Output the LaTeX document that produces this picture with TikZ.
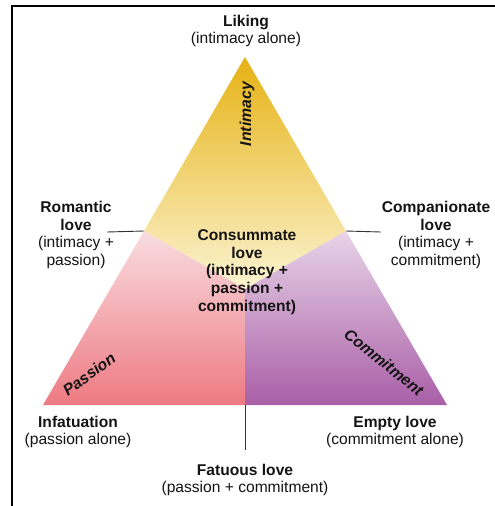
\documentclass[tikz,border=0pt]{standalone}
\usepackage{fontspec}
\setmainfont{Liberation Sans}
\definecolor{ydeep}{HTML}{E6B214}
\definecolor{ymid}{HTML}{F1CB3C}
\definecolor{ypale}{HTML}{FCF4D2}
\definecolor{pdeep}{HTML}{EE7A82}
\definecolor{pmid}{HTML}{F3ACB3}
\definecolor{ppale}{HTML}{F8DCE0}
\definecolor{udeep}{HTML}{A95FA7}
\definecolor{umid}{HTML}{C99AC7}
\definecolor{upale}{HTML}{E8D4E8}
\definecolor{txt}{HTML}{141414}
\begin{document}
\begin{tikzpicture}[x=1pt,y=-1pt,
  lbl/.style={align=center, font=\fontsize{15.6}{17.6}\selectfont, text=txt, inner sep=0pt},
  axislbl/.style={font=\fontsize{15.8}{17.6}\selectfont\bfseries\itshape, text=txt, inner sep=0pt},
  conn/.style={draw=black!80, line width=0.9pt}]
\useasboundingbox (0,0) rectangle (495,506);
% frame
\draw[line width=2pt] (12,506) -- (12,6) -- (495,6);
% triangle points
\coordinate (A) at (245,57);
\coordinate (L) at (43,405);
\coordinate (R) at (447,405);
\coordinate (ML) at (144,231);
\coordinate (MR) at (346,231);
\coordinate (MB) at (245,405);
\coordinate (C) at (245,289);
% regions
\shade[top color=ydeep, middle color=ymid, bottom color=ypale] (A) -- (MR) -- (C) -- (ML) -- cycle;
\shade[top color=ppale, middle color=pmid, bottom color=pdeep] (ML) -- (C) -- (MB) -- (L) -- cycle;
\shade[top color=upale, middle color=umid, bottom color=udeep] (MR) -- (C) -- (MB) -- (R) -- cycle;
% axis labels
\node[axislbl, rotate=90] (intimacy) at (247,114) {Intimacy};
\node[axislbl, rotate=36] (passion) at (89,374) {Passion};
\node[axislbl, rotate=-39] (commitment) at (384,362) {Commitment};
% labels
\node[lbl] (liking) at (246,31) {\textbf{Liking}\\(intimacy alone)};
\node[lbl] (romantic) at (76,235) {\textbf{Romantic}\\\textbf{love}\\(intimacy +\\passion)};
\node[lbl] (companionate) at (436,235) {\textbf{Companionate}\\\textbf{love}\\(intimacy +\\commitment)};
\node[lbl, font=\fontsize{15.6}{17.6}\selectfont\bfseries] (consummate) at (247,272) {Consummate\\love\\(intimacy +\\passion +\\commitment)};
\node[lbl] (infatuation) at (78,432) {\textbf{Infatuation}\\(passion alone)};
\node[lbl] (empty) at (395,432) {\textbf{Empty love}\\(commitment alone)};
\node[lbl] (fatuous) at (245,480) {\textbf{Fatuous love}\\(passion + commitment)};
% connectors
\coordinate (rl) at (107,232);
\coordinate (cl) at (381,232);
\coordinate (fl) at (245,450);
\draw[conn] (rl) -- (ML);
\draw[conn] (MR) -- (cl);
\draw[conn] (MB) -- (fl);
\end{tikzpicture}
\end{document}
